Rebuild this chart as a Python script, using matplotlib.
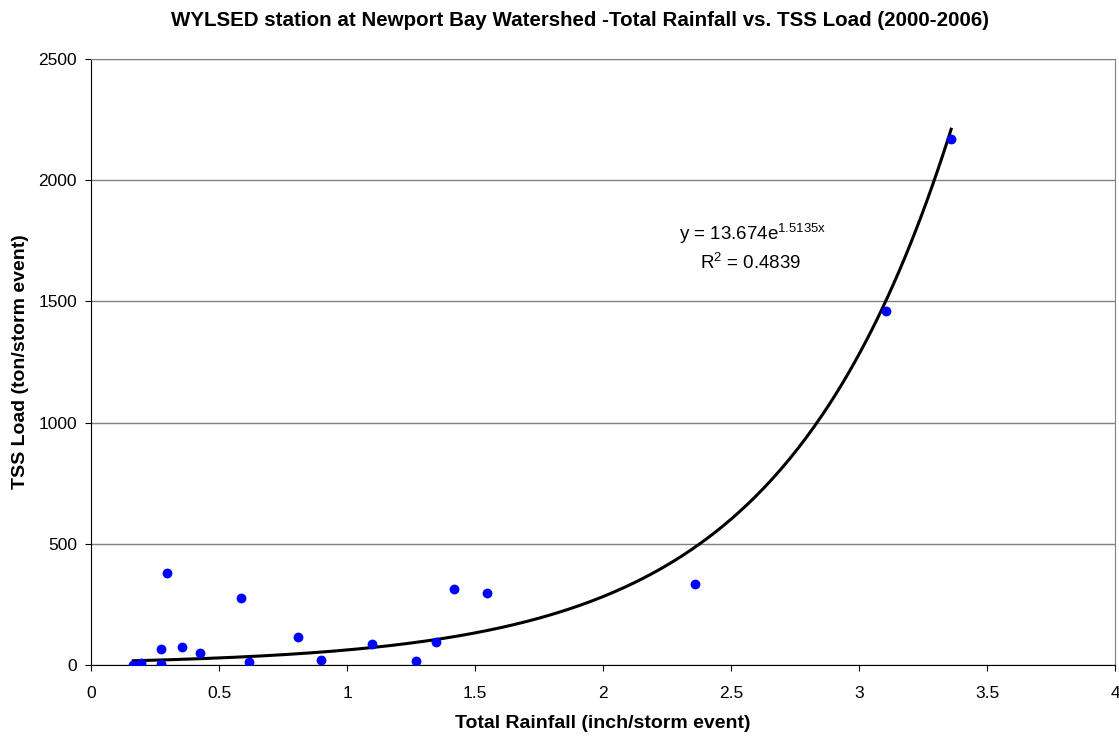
import numpy as np
import matplotlib
matplotlib.use('Agg')
import matplotlib.pyplot as plt

plt.rcParams['font.family'] = ['Liberation Sans', 'DejaVu Sans']
plt.rcParams['mathtext.fontset'] = 'custom'
plt.rcParams['mathtext.rm'] = 'Liberation Sans'
plt.rcParams['mathtext.default'] = 'regular'

# 降雨量 (inch/storm event) 与 TSS 负荷 (ton/storm event)
rainfall = [0.165, 0.195, 0.275, 0.275, 0.296, 0.357, 0.427, 0.586, 0.618,
            0.807, 0.897, 1.098, 1.268, 1.348, 1.418, 1.546, 2.359, 3.105, 3.360]
tss_load = [2, 10, 3, 66, 380, 74, 48, 276, 11,
            117, 22, 86, 15, 95, 313, 297, 334, 1460, 2170]

# 指数拟合参数
coef_a = 13.674
coef_b = 1.5135

fig = plt.figure(figsize=(11.19, 7.38), dpi=100)
ax = fig.add_axes([91/1119, 1-665/738, 1024/1119, 606/738])

xs = np.linspace(min(rainfall), max(rainfall), 300)
ax.plot(xs, coef_a*np.exp(coef_b*xs), color='black', lw=2.2, zorder=2)
ax.scatter(rainfall, tss_load, s=50, color='#0000ff', zorder=3, linewidths=0)

ax.set_xlim(0, 4)
ax.set_ylim(0, 2500)
ax.set_xticks(np.arange(0, 4.01, 0.5))
ax.set_xticklabels(['0', '0.5', '1', '1.5', '2', '2.5', '3', '3.5', '4'])
ax.set_yticks(range(0, 2501, 500))
ax.grid(axis='y', color='#808080', lw=1)
ax.set_axisbelow(True)
for s in ['top', 'right']:
    ax.spines[s].set_color('#808080')
ax.tick_params(axis='both', direction='out', length=4, labelsize=12.5, colors='black')
ax.tick_params(axis='y', pad=6)
ax.tick_params(axis='x', pad=11)

ax.set_xlabel('Total Rainfall (inch/storm event)', fontsize=14, weight='bold', labelpad=10)
ax.set_ylabel('TSS Load (ton/storm event)', fontsize=14, weight='bold', labelpad=7)
fig.text(580/1119, 1-21/738, 'WYLSED station at Newport Bay Watershed -Total Rainfall vs. TSS Load (2000-2006)',
         ha='center', va='center', fontsize=14.8, weight='bold')

ax.text(2.295, 1780, r'y = 13.674e$^{1.5135x}$', fontsize=13.5, ha='left', va='center')
ax.text(2.38, 1660, r'R$^{2}$ = 0.4839', fontsize=13.5, ha='left', va='center')

fig.savefig('out.png', dpi=100)
